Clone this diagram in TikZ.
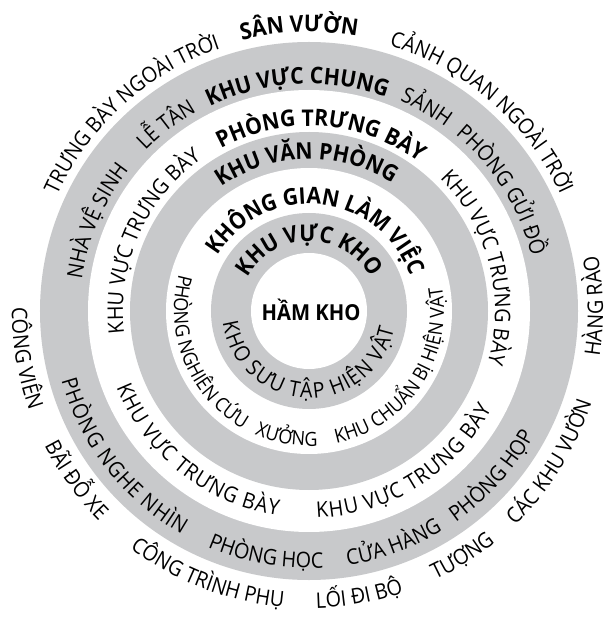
\documentclass[tikz,border=0pt]{standalone}
\usepackage{fontspec}
\setmainfont{Open Sans}[FakeStretch=0.92]
\usetikzlibrary{decorations.text}
\definecolor{ringgray}{RGB}{200,201,203}
\newcommand\labreg{\fontsize{21.5pt}{21.5pt}\selectfont}
\newcommand\labsmall{\fontsize{19.5pt}{19.5pt}\selectfont}
\newcommand\labbold{\fontsize{23pt}{23pt}\selectfont\bfseries}
% text on an arc: [shift of baseline from path], radius, middle angle, font, text
\newcommand\cwlabel[5][0]{%
  \path[decorate,decoration={text along path,text align=center,raise=#1pt,text={|#4|#5}}]
    (#3+85:#2pt) arc[start angle=#3+85,end angle=#3-85,radius=#2pt];}
\newcommand\ccwlabel[5][0]{%
  \path[decorate,decoration={text along path,text align=center,raise=-#1pt,text={|#4|#5}}]
    (#3-85:#2pt) arc[start angle=#3-85,end angle=#3+85,radius=#2pt];}

\begin{document}
\begin{tikzpicture}
\fill[white] (-309pt,-307pt) rectangle (300pt,311pt);
\useasboundingbox (-309pt,-307pt) rectangle (300pt,311pt);
% rings
\foreach \rad/\col in {269/ringgray,221/white,179/ringgray,143/white,98/ringgray,58/white}
  \fill[\col] (0,0) circle[radius=\rad pt];
% core
\node[font=\fontsize{22pt}{22pt}\selectfont\bfseries] (core) at (2pt,1pt) {HẦM KHO};
% inner gray ring
\cwlabel{70}{90}{\labbold}{KHU VỰC KHO}
\ccwlabel[9]{78}{268}{\labreg}{KHO SƯU TẬP HIỆN VẬT}
% inner white ring
\cwlabel{107}{84}{\labbold}{KHÔNG GIAN LÀM VIỆC}
\ccwlabel{135}{202.5}{\labsmall}{PHÒNG NGHIÊN CỨU}
\ccwlabel{135}{260}{\labsmall}{XƯỞNG}
\ccwlabel{135}{326}{\labsmall}{KHU CHUẨN BỊ HIỆN VẬT}
% middle gray ring
\cwlabel{152}{91}{\labbold}{KHU VĂN PHÒNG}
% middle white ring
\cwlabel{185}{86}{\labbold}{PHÒNG TRƯNG BÀY}
\cwlabel{186}{156}{\labreg}{KHU VỰC TRƯNG BÀY}
\cwlabel{186}{14.5}{\labreg}{KHU VỰC TRƯNG BÀY}
\ccwlabel[16]{191}{231.5}{\labreg}{KHU VỰC TRƯNG BÀY}
\ccwlabel[16]{191}{302}{\labreg}{KHU VỰC TRƯNG BÀY}
% outer gray ring
\cwlabel{227}{93}{\labbold}{KHU VỰC CHUNG}
\cwlabel{229}{127.5}{\labreg}{LỄ TÂN}
\cwlabel{229}{157}{\labreg}{NHÀ VỆ SINH}
\cwlabel{229}{60}{\labreg}{SẢNH}
\cwlabel{229}{32}{\labreg}{PHÒNG GỬI ĐỒ}
\ccwlabel[20]{237}{218}{\labreg}{PHÒNG NGHE NHÌN}
\ccwlabel{257}{260}{\labreg}{PHÒNG HỌC}
\ccwlabel{257}{290}{\labreg}{CỬA HÀNG}
\ccwlabel{257}{318}{\labreg}{PHÒNG HỌP}
% outside
\cwlabel{279}{92}{\labbold}{SÂN VƯỜN}
\cwlabel{277}{132}{\labreg}{TRƯNG BÀY NGOÀI TRỜI}
\cwlabel{277}{49}{\labreg}{CẢNH QUAN NGOÀI TRỜI}
\ccwlabel{294}{1}{\labreg}{HÀNG RÀO}
\ccwlabel{297}{328}{\labreg}{CÁC KHU VƯỜN}
\ccwlabel{297}{302}{\labreg}{TƯỢNG}
\ccwlabel{297}{280}{\labreg}{LỐI ĐI BỘ}
\ccwlabel{297}{249}{\labreg}{CÔNG TRÌNH PHỤ}
\ccwlabel{297}{216}{\labreg}{BÃI ĐỖ XE}
\ccwlabel{297}{189.5}{\labreg}{CÔNG VIÊN}
\end{tikzpicture}
\end{document}
